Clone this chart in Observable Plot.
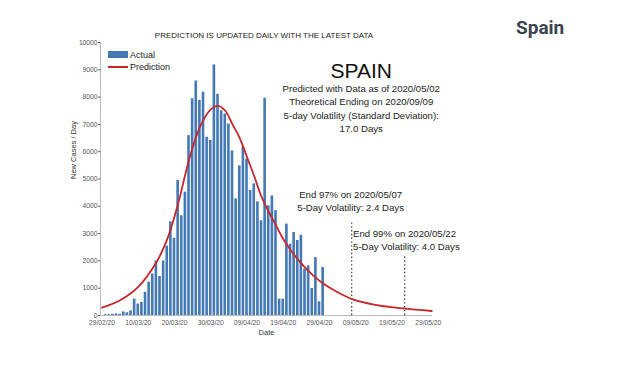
<!DOCTYPE html>
<html><head><meta charset="utf-8">
<script src="https://cdn.jsdelivr.net/npm/d3@7"></script>
<script src="https://cdn.jsdelivr.net/npm/@observablehq/plot@0.6"></script>
<style>
body{margin:0;background:#fff;}
#wrap{position:relative;width:620px;height:368px;font-family:"Liberation Sans",Arial,sans-serif;color:#222;}
#wrap svg{position:absolute;left:0;top:0;}
.ov{position:absolute;white-space:nowrap;}
#country{left:516px;top:16px;font-family:Roboto,"Liberation Sans",sans-serif;font-weight:700;font-size:19px;color:#3c4350;}
#title{left:264px;top:31px;transform:translateX(-50%);font-size:8px;color:#1a1a1a;}
.sw{position:absolute;}
.lg{position:absolute;font-size:9px;color:#222;line-height:10px;}
</style></head><body>
<div id="wrap"></div>
<script>
// ---- data ----
const actualStart = "2020-03-01";
const actualCases = [30, 30, 45, 55, 40, 130, 100, 170, 600, 420,
  480, 850, 1220, 1520, 2000, 1430, 2000, 2540, 3430, 2830,
  4950, 3650, 4520, 6590, 7940, 8590, 7880, 8180, 6530, 6410,
  9180, 8100, 7500, 7380, 7010, 6030, 4270, 5480, 6180, 5730,
  4580, 4820, 4160, 3470, 7960, 4020, 4380, 3840, 600, 600,
  3350, 2610, 3040, 2750, 2940, 1700, 1820, 990, 2120, 500, 1760];

const predDates = ["2020-02-29","2020-03-05","2020-03-10","2020-03-15","2020-03-18","2020-03-21",
  "2020-03-24","2020-03-27","2020-03-30","2020-04-01","2020-04-03","2020-04-05","2020-04-07",
  "2020-04-09","2020-04-11","2020-04-13","2020-04-15","2020-04-17","2020-04-19","2020-04-21",
  "2020-04-24","2020-04-27","2020-04-30","2020-05-04","2020-05-08","2020-05-14","2020-05-22","2020-05-30"];
const predValues = [290, 560, 1050, 1950, 2800, 4100,
  5700, 6900, 7550, 7680, 7500, 7000, 6500,
  5800, 5100, 4350, 3800, 3300, 2800, 2400,
  1900, 1500, 1170, 850, 600, 400, 260, 165];

const endDates = ["2020-05-07T21:00Z", "2020-05-22T12:00Z"];
const endTops = [3400, 2150];

const xTickDates = ["2020-02-29","2020-03-10","2020-03-20","2020-03-30","2020-04-09",
  "2020-04-19","2020-04-29","2020-05-09","2020-05-19","2020-05-29"];
const yTickValues = [0,1000,2000,3000,4000,5000,6000,7000,8000,9000,10000];

const titleText = "PREDICTION IS UPDATED DAILY WITH THE LATEST DATA";
const countryText = "Spain";
const xLabel = "Date";
const yLabel = "New Cases / Day";
const infoLines = ["Predicted with Data as of 2020/05/02", "Theoretical Ending on 2020/09/09",
  "5-day Volatility (Standard Deviation):", "17.0 Days"];
const end97Lines = ["End 97% on 2020/05/07", "5-Day Volatility: 2.4 Days"];
const end99Lines = ["End 99% on 2020/05/22", "5-Day Volatility: 4.0 Days"];

// ---- build tables ----
const DAY = 864e5;
const t0 = new Date(actualStart + "T00:00Z").getTime();
const actual = actualCases.map((v, i) => ({date: new Date(t0 + i * DAY), value: v}));
const pred = predDates.map((d, i) => ({date: new Date(d + "T00:00Z"), value: predValues[i]}));
const ends = endDates.map((d, i) => ({date: new Date(d), top: endTops[i]}));
const xTicks = xTickDates.map(d => new Date(d + "T00:00Z"));
const xStart = new Date("2020-02-28T14:00Z");
const xEnd = new Date("2020-05-30T04:00Z");

const infoX = new Date("2020-05-10T12:00Z");
const infoY = [8300, 7810, 7315, 6840];
const e97X = new Date("2020-05-07T14:00Z");
const e97Y = [4420, 3945];
const e99X = new Date("2020-05-08T06:00Z");
const e99Y = [2990, 2500];

const blue = "#4479b6", red = "#c9252c";

const chart = Plot.plot({
  width: 620, height: 368,
  marginLeft: 100, marginRight: 188, marginTop: 42, marginBottom: 53,
  style: {fontFamily: "Liberation Sans, Arial, sans-serif", fontSize: "6.7px", color: "#555", background: "transparent"},
  x: {type: "utc", domain: [xStart, xEnd], ticks: xTicks, tickFormat: d3.utcFormat("%d/%m/%y"),
      tickSize: 0, tickPadding: 5, label: null},
  y: {domain: [0, 10000], ticks: yTickValues, tickFormat: d3.format("d"), tickSize: 2, tickPadding: 1,
      label: null},
  marks: [
    Plot.rectY(actual, {x1: d => new Date(d.date.getTime() - 0.36 * DAY), x2: d => new Date(d.date.getTime() + 0.36 * DAY), y: "value", fill: blue}),
    Plot.ruleX([xStart], {stroke: "#aaa", strokeWidth: 0.8}),
    Plot.ruleY([0], {stroke: "#aaa", strokeWidth: 0.8}),
    Plot.ruleX(ends, {x: "date", y1: 0, y2: "top", stroke: "#333", strokeWidth: 1.2, strokeDasharray: "1.4,2.4"}),
    Plot.line(pred, {x: "date", y: "value", stroke: red, strokeWidth: 1.8, curve: "catmull-rom"}),
    Plot.text([xLabel], {frameAnchor: "bottom", dy: 19, text: d => d, fontSize: 7.5, fill: "#333"}),
    Plot.text([yLabel], {frameAnchor: "left", dx: -27, rotate: -90, text: d => d, fontSize: 7.5, fill: "#333"}),
    Plot.text(["SPAIN"], {x: infoX, y: 8960, text: d => d, fontSize: 21, fill: "#111"}),
    Plot.text(infoLines, {x: infoX, y: (d, i) => infoY[i], text: d => d, fontSize: 9.6, fill: "#222"}),
    Plot.text(end97Lines, {x: e97X, y: (d, i) => e97Y[i], text: d => d, fontSize: 9.6, fill: "#222"}),
    Plot.text(end99Lines, {x: e99X, y: (d, i) => e99Y[i], text: d => d, fontSize: 9.6, fill: "#222", textAnchor: "start"})
  ]
});
const wrap = document.getElementById("wrap");
wrap.appendChild(chart);

function ov(id, text) { const d = document.createElement("div"); d.className = "ov"; d.id = id; d.textContent = text; wrap.appendChild(d); }
ov("country", countryText);
ov("title", titleText);
// legend
const legendItems = [{label: "Actual", color: blue, kind: "rect"}, {label: "Prediction", color: red, kind: "line"}];
legendItems.forEach((it, i) => {
  const cy = 54.5 + i * 12.5;
  const s = document.createElement("div"); s.className = "sw";
  s.style.left = "108px"; s.style.width = "20px"; s.style.background = it.color;
  if (it.kind === "rect") { s.style.top = (cy - 3.5) + "px"; s.style.height = "7px"; }
  else { s.style.top = (cy - 1) + "px"; s.style.height = "2px"; }
  wrap.appendChild(s);
  const t = document.createElement("div"); t.className = "lg"; t.textContent = it.label;
  t.style.left = "130px"; t.style.top = (cy - 5) + "px";
  wrap.appendChild(t);
});
</script>
</body></html>
